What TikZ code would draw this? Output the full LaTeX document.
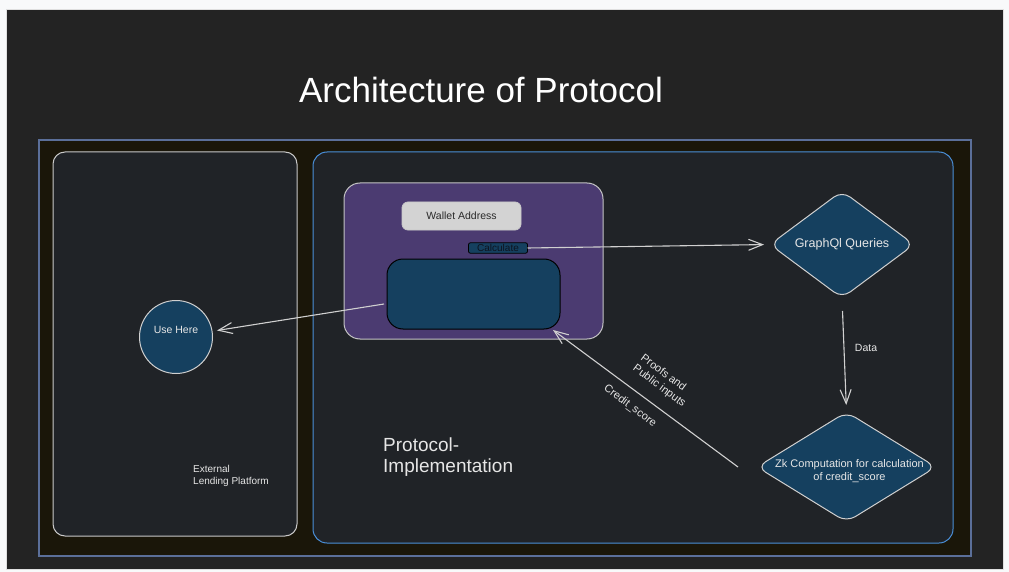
\documentclass[tikz,border=0pt]{standalone}
\usepackage{fontspec}
\setmainfont{Liberation Sans}
\usetikzlibrary{shapes.geometric,arrows.meta,calc}
\definecolor{pagebg}{HTML}{F8F9FA}
\definecolor{canvas}{HTML}{232323}
\definecolor{framefill}{HTML}{1A1609}
\definecolor{framedraw}{HTML}{5B6F99}
\definecolor{panel}{HTML}{202327}
\definecolor{panelgray}{HTML}{C9C9C9}
\definecolor{panelblue}{HTML}{4A8FD8}
\definecolor{purplebox}{HTML}{4B3B71}
\definecolor{purpledraw}{HTML}{C4C4C4}
\definecolor{walletfill}{HTML}{D3D3D3}
\definecolor{navy}{HTML}{15405F}
\definecolor{linec}{HTML}{D0D0D0}
\definecolor{textc}{HTML}{E6E6E6}
\definecolor{darktext}{HTML}{2A2A2A}
\definecolor{calctext}{HTML}{0E1420}
\begin{document}
\begin{tikzpicture}[x=1pt,y=-1pt,
  boxshape/.style={rectangle, inner sep=0pt, outer sep=0pt},
  navyshape/.style={fill=navy, draw=linec, line width=1pt, inner sep=0pt, outer sep=0pt},
  lbl/.style={text=textc, inner sep=0pt},
  arr/.style={draw=linec, line width=1.1pt, -{Straight Barb[length=14pt,width=11pt,line width=1.1pt]}},
]
\useasboundingbox (0,0) rectangle (1009,572);
\fill[pagebg] (0,0) rectangle (1009,572);
\node[boxshape, fill=canvas, draw=panelgray!60, line width=0.6pt, minimum width=997pt, minimum height=560pt] (canvas) at (504.5,289) {};

\node[font=\fontsize{35}{40}\selectfont, text=white, inner sep=0pt] (title) at (481,90) {Architecture of Protocol};

\node[boxshape, fill=framefill, draw=framedraw, line width=2pt, minimum width=932pt, minimum height=416pt] (frame) at (505,348) {};

\node[boxshape, fill=panel, draw=panelgray, line width=1pt, rounded corners=12pt, minimum width=244pt, minimum height=384pt] (left) at (175,344) {};
\node[boxshape, fill=panel, draw=panelblue, line width=1pt, rounded corners=14pt, minimum width=640pt, minimum height=391pt] (right) at (633,347.5) {};

\node[boxshape, fill=purplebox, draw=purpledraw, line width=1pt, rounded corners=16pt, minimum width=259pt, minimum height=156pt] (purple) at (473.5,261) {};
\node[boxshape, fill=walletfill, draw=panelgray, line width=0.8pt, rounded corners=6pt, minimum width=119pt, minimum height=28pt, font=\fontsize{10.5}{12}\selectfont, text=darktext] (wallet) at (461.5,216) {Wallet Address};
\node[boxshape, fill=navy, draw=black, line width=0.8pt, rounded corners=2pt, minimum width=59pt, minimum height=10.5pt, font=\fontsize{10}{10}\selectfont, text=calctext] (calc) at (498,248) {Calculate};
\node[boxshape, fill=navy, draw=black, line width=1pt, rounded corners=16pt, minimum width=173pt, minimum height=70pt] (dark) at (473.5,294) {};

\node[circle, navyshape, minimum size=73pt] (usehere) at (176,337) {};
\node[lbl, font=\fontsize{10.5}{12}\selectfont] (usehereT) at ($(usehere.center)+(0,-7)$) {Use Here};

\node[diamond, navyshape, rounded corners=10pt, minimum width=144pt, minimum height=107pt] (gql) at (842,244.5) {};
\node[lbl, font=\fontsize{12.5}{14}\selectfont] (gqlT) at (gql.center) {GraphQl Queries};

\node[diamond, navyshape, rounded corners=10pt, minimum width=179pt, minimum height=110pt] (zk) at (846.5,467) {};
\node[lbl, font=\fontsize{11}{13}\selectfont, align=center] (zkT) at ($(zk.center)+(3,4)$) {Zk Computation for calculation\\of credit\_score};

\node[lbl, font=\fontsize{19}{20.5}\selectfont, align=left, anchor=north west] (protoT) at (383,438) {Protocol-\\Implementation};
\node[lbl, font=\fontsize{10}{12}\selectfont, align=left, anchor=north west] (extT) at (193,465) {External\\Lending Platform};

% connectors
\draw[arr, shorten >=6pt] (calc.east) -- (gql.west);
\coordinate (darkout) at ([xshift=-3pt,yshift=-10pt]dark.west);
\draw[arr, shorten >=5pt] (darkout) -- (usehere);
\draw[arr, shorten <=13pt, shorten >=7pt] (gql.south) -- (zk.north);
\node[lbl, font=\fontsize{10.5}{12}\selectfont] (dataT) at (866,348) {Data};
\coordinate (zkstart) at ([xshift=-19pt]zk.west);
\coordinate (darkin) at ([xshift=-7pt,yshift=-1pt]dark.south east);
\draw[arr] (zkstart) -- (darkin);
\node[lbl, font=\fontsize{11}{13}\selectfont, align=left, rotate=-36.7] (proofT) at (663,381) {Proofs and\\Public inputs};
\node[lbl, font=\fontsize{11}{13}\selectfont, rotate=-36.7] (creditT) at (630,406) {Credit\_score};
\end{tikzpicture}
\end{document}
